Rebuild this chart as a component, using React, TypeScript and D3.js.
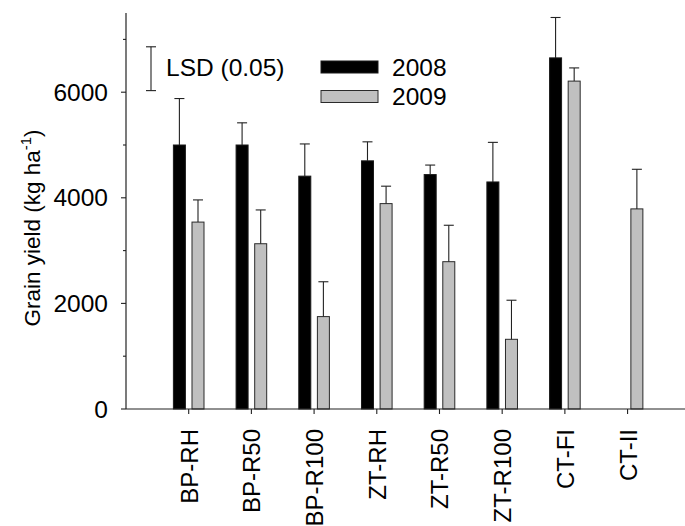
import React from "react";
import * as d3 from "d3";

const categories = ["BP-RH", "BP-R50", "BP-R100", "ZT-RH", "ZT-R50", "ZT-R100", "CT-FI", "CT-II"];
const years = ["2008", "2009"];
const yield2008: (number | null)[] = [5000, 5000, 4410, 4700, 4440, 4300, 6650, null];
const err2008: (number | null)[] = [880, 420, 610, 360, 180, 750, 765, null];
const yield2009: (number | null)[] = [3540, 3130, 1750, 3890, 2790, 1320, 6210, 3790];
const err2009: (number | null)[] = [420, 640, 660, 330, 690, 740, 250, 750];
const yTicksMajor = [0, 2000, 4000, 6000];
const yTicksMinor = [1000, 3000, 5000, 7000];
const lsdLow = 6030;
const lsdValue = 830;

const W = 685;
const H = 526;
const FONT = "'Liberation Sans', Arial, Helvetica, sans-serif";

export default function App() {
  const left = 126;
  const right = 684;
  const bottom = 409;
  const top = 13;
  const x = d3.scaleLinear().domain([0, 8.9]).range([left, right]);
  const y = d3.scaleLinear().domain([0, 7500]).range([bottom, top]);
  const sub = d3.scaleBand().domain(years).range([-15.3, 15.3]).paddingInner(0.355).paddingOuter(0);
  const bw = sub.bandwidth();
  const fills: Record<string, string> = { "2008": "#000000", "2009": "#c0c0c0" };
  const strokes: Record<string, string> = { "2008": "#1a1a1a", "2009": "#2a2a2a" };
  const series: Record<string, { v: (number | null)[]; e: (number | null)[] }> = {
    "2008": { v: yield2008, e: err2008 },
    "2009": { v: yield2009, e: err2009 },
  };
  const cap = 5;

  return (
    <svg
      width={W}
      height={H}
      style={{ position: "absolute", left: 0, top: 0, background: "#fff" }}
      fontFamily={FONT}
    >
      <rect x={0} y={0} width={W} height={H} fill="#fff" />
      {/* bars */}
      {years.map((yr) =>
        categories.map((c, i) => {
          const v = series[yr].v[i];
          if (v == null) return null;
          const cx = x(i + 1) + (sub(yr) as number);
          return (
            <rect
              key={yr + c}
              x={cx}
              y={y(v)}
              width={bw}
              height={y(0) - y(v)}
              fill={fills[yr]}
              stroke={strokes[yr]}
              strokeWidth={1}
            />
          );
        })
      )}
      {/* error bars */}
      {years.map((yr) =>
        categories.map((c, i) => {
          const v = series[yr].v[i];
          const e = series[yr].e[i];
          if (v == null || e == null) return null;
          const cx = x(i + 1) + (sub(yr) as number) + bw / 2;
          return (
            <g key={"e" + yr + c} stroke="#222" strokeWidth={1.1}>
              <line x1={cx} x2={cx} y1={y(v)} y2={y(v + e)} />
              <line x1={cx - cap} x2={cx + cap} y1={y(v + e)} y2={y(v + e)} />
            </g>
          );
        })
      )}
      {/* axes */}
      <line x1={left} x2={left} y1={bottom} y2={top} stroke="#222" strokeWidth={1.2} />
      <line x1={left} x2={W} y1={bottom} y2={bottom} stroke="#222" strokeWidth={1.2} />
      {yTicksMajor.map((t) => (
        <g key={"ym" + t}>
          <line x1={left - 5} x2={left} y1={y(t)} y2={y(t)} stroke="#222" strokeWidth={1.1} />
          <text x={left - 18} y={y(t)} dy="0.35em" textAnchor="end" fontSize={24.5} fill="#000">
            {t}
          </text>
        </g>
      ))}
      {yTicksMinor.map((t) => (
        <line key={"yn" + t} x1={left - 3} x2={left} y1={y(t)} y2={y(t)} stroke="#222" strokeWidth={1.1} />
      ))}
      {categories.map((c, i) => (
        <g key={"xt" + c}>
          <line x1={x(i + 1)} x2={x(i + 1)} y1={bottom} y2={bottom + 5} stroke="#222" strokeWidth={1.1} />
          <text
            transform={`translate(${x(i + 1) + 9},${bottom + 20}) rotate(-90)`}
            textAnchor="end"
            fontSize={24}
            fill="#000"
          >
            {c}
          </text>
        </g>
      ))}
      {/* y label */}
      <text
        transform={`translate(40,228) rotate(-90)`}
        textAnchor="middle"
        fontSize={22.5}
        fill="#000"
      >
        Grain yield (kg ha
        <tspan fontSize={15} dy={-9}>-1</tspan>
        <tspan dy={9}>)</tspan>
      </text>
      {/* LSD */}
      <g stroke="#222" strokeWidth={1.1}>
        <line x1={151} x2={151} y1={y(lsdLow)} y2={y(lsdLow + lsdValue)} />
        <line x1={146} x2={156} y1={y(lsdLow)} y2={y(lsdLow)} />
        <line x1={146} x2={156} y1={y(lsdLow + lsdValue)} y2={y(lsdLow + lsdValue)} />
      </g>
      <text x={166} y={75.5} fontSize={24.5} fill="#000">
        LSD (0.05)
      </text>
      {/* legend */}
      {years.map((yr, k) => (
        <g key={"lg" + yr}>
          <rect
            x={321}
            y={61 + k * 29.5}
            width={57}
            height={12}
            fill={fills[yr]}
            stroke={strokes[yr]}
            strokeWidth={1}
          />
          <text x={392} y={75.5 + k * 29.5} fontSize={24.5} fill="#000">
            {yr}
          </text>
        </g>
      ))}
    </svg>
  );
}
